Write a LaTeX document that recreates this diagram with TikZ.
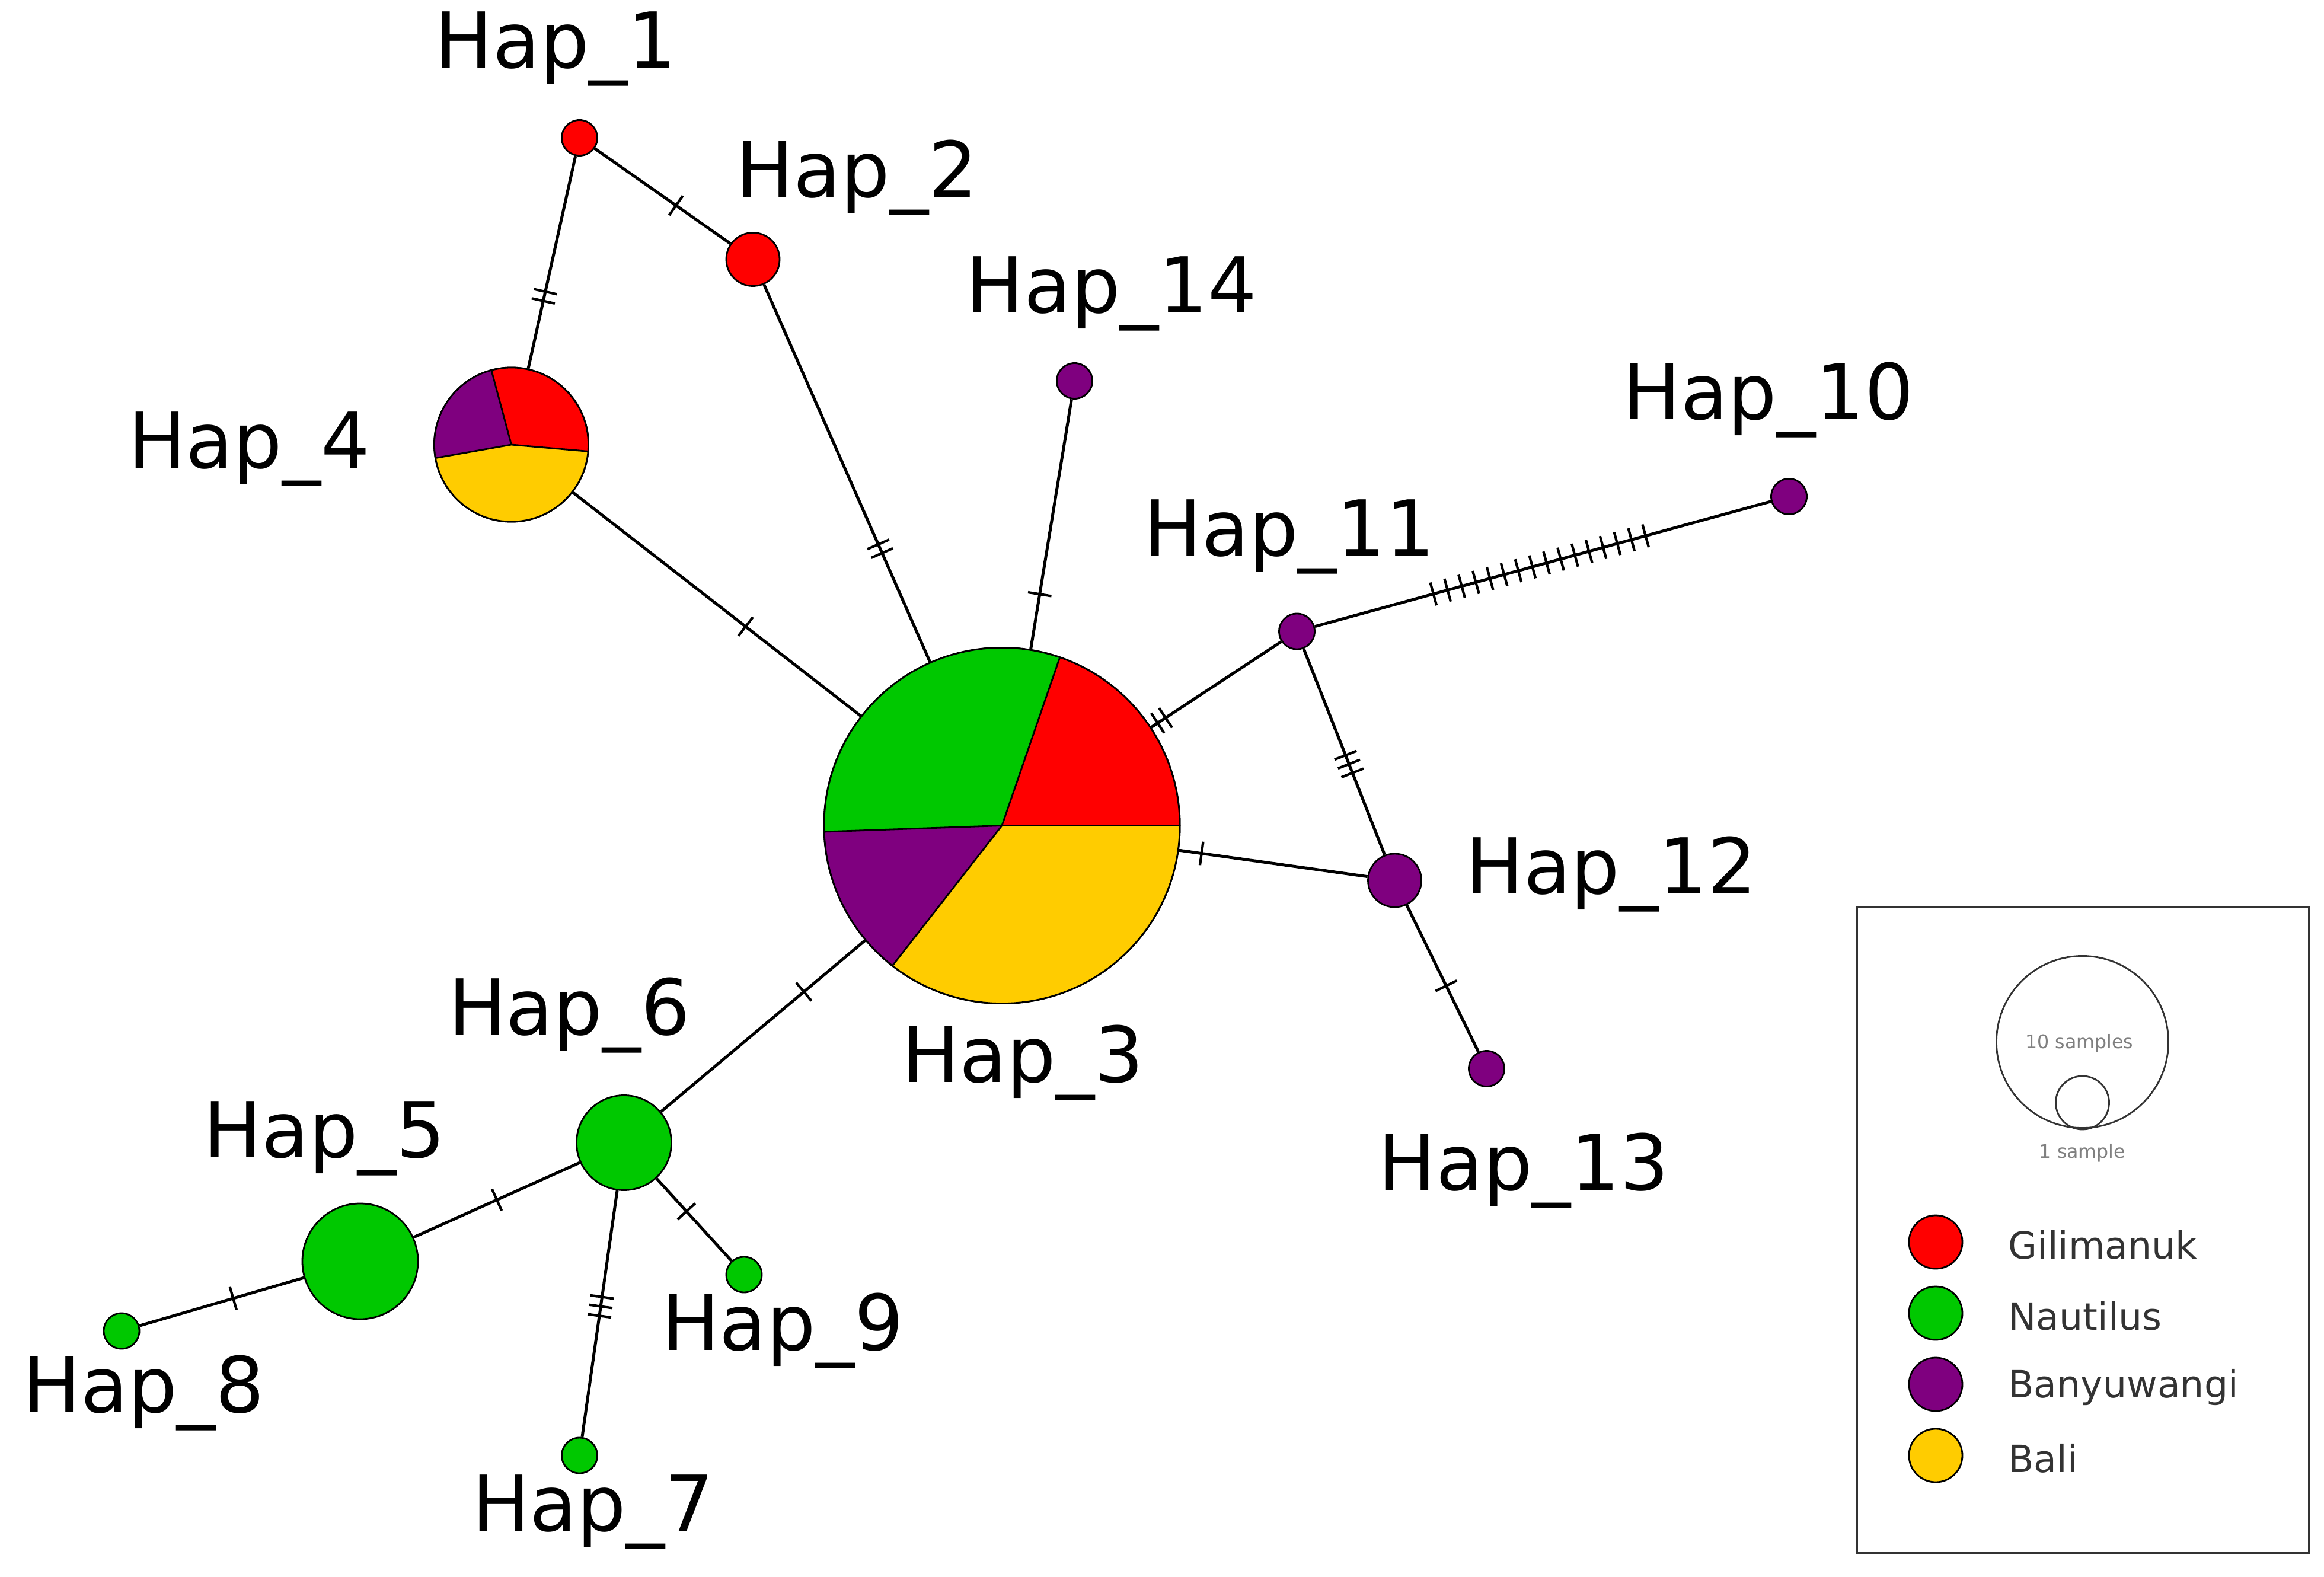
\documentclass[tikz,border=0pt]{standalone}
\usepackage{fontspec}
\setmainfont{DejaVu Sans}
\usetikzlibrary{decorations.markings}
\definecolor{cr}{HTML}{FF0000}
\definecolor{cg}{HTML}{00C800}
\definecolor{cp}{HTML}{7F007F}
\definecolor{cy}{HTML}{FFCC00}
\tikzset{
  x=0.025cm,y=-0.025cm,
  hap/.style={circle,draw=black,line width=0.8pt,inner sep=0pt},
  lbl/.style={font=\fontsize{37}{40}\selectfont},
  leg/.style={font=\fontsize{18}{20}\selectfont,text=black!80,anchor=west},
  edge/.style={line width=1.4pt},
  tk/.style 2 args={postaction={decorate,decoration={markings,mark=at position #1 with {\foreach \i in {1,...,#2}{\draw[line width=1.2pt] ({(\i-(#2+1)/2)*0.16cm},-0.2cm) -- ({(\i-(#2+1)/2)*0.16cm},0.2cm);}}}}}
}
\newcommand{\pieslice}[5]{\fill[#5] (#1) -- ++(#3:#2) arc[start angle=#3,end angle=#4,radius=#2] -- cycle;}
\begin{document}
\begin{tikzpicture}
\useasboundingbox (0,0) rectangle (1568,1064);
% nodes
\node[hap,fill=cr,minimum size=0.6cm] (h1) at (391,93) {};
\node[hap,fill=cr,minimum size=0.9cm] (h2) at (508,175) {};
\node[hap,minimum size=2.6cm] (h4) at (345,300) {};
\node[hap,minimum size=6cm] (h3) at (676,557) {};
\node[hap,fill=cp,minimum size=0.6cm] (h14) at (725,257) {};
\node[hap,fill=cp,minimum size=0.6cm] (h10) at (1207,335) {};
\node[hap,fill=cp,minimum size=0.6cm] (h11) at (875,426) {};
\node[hap,fill=cp,minimum size=0.9cm] (h12) at (941,594) {};
\node[hap,fill=cp,minimum size=0.6cm] (h13) at (1003,721) {};
\node[hap,fill=cg,minimum size=1.6cm] (h6) at (421,771) {};
\node[hap,fill=cg,minimum size=1.95cm] (h5) at (243,851) {};
\node[hap,fill=cg,minimum size=0.6cm] (h8) at (82,898) {};
\node[hap,fill=cg,minimum size=0.6cm] (h9) at (502,860) {};
\node[hap,fill=cg,minimum size=0.6cm] (h7) at (391,982) {};
% pies
\begin{scope}[line width=0.8pt]
\pieslice{h4.center}{1.3cm}{-5}{105}{cr}
\pieslice{h4.center}{1.3cm}{105}{190}{cp}
\pieslice{h4.center}{1.3cm}{190}{355}{cy}
\draw (h4.center) -- ++(-5:1.3cm) (h4.center) -- ++(105:1.3cm) (h4.center) -- ++(190:1.3cm);
\draw (h4.center) circle[radius=1.3cm];
\pieslice{h3.center}{3cm}{0}{71}{cr}
\pieslice{h3.center}{3cm}{71}{182}{cg}
\pieslice{h3.center}{3cm}{182}{232}{cp}
\pieslice{h3.center}{3cm}{232}{360}{cy}
\draw (h3.center) -- ++(0:3cm) (h3.center) -- ++(71:3cm) (h3.center) -- ++(182:3cm) (h3.center) -- ++(232:3cm);
\draw (h3.center) circle[radius=3cm];
\end{scope}
% edges
\draw[edge,tk={0.66}{2}] (h1) -- (h4);
\draw[edge,tk={0.6}{1}] (h1) -- (h2);
\draw[edge,tk={0.7}{2}] (h2) -- (h3);
\draw[edge,tk={0.6}{1}] (h4) -- (h3);
\draw[edge,tk={0.78}{1}] (h14) -- (h3);
\draw[edge,tk={0.08}{2}] (h3) -- (h11);
\draw[edge,postaction={decorate,decoration={markings,mark=between positions 0.26 and 0.73 step 0.031 with {\draw[line width=1.2pt] (0,-0.2cm) -- (0,0.2cm);}}}] (h11) -- (h10);
\draw[edge,tk={0.56}{3}] (h11) -- (h12);
\draw[edge,tk={0.12}{1}] (h3) -- (h12);
\draw[edge,tk={0.55}{1}] (h12) -- (h13);
\draw[edge,tk={0.3}{1}] (h3) -- (h6);
\draw[edge,tk={0.5}{1}] (h6) -- (h5);
\draw[edge,tk={0.43}{1}] (h5) -- (h8);
\draw[edge,tk={0.4}{1}] (h6) -- (h9);
\draw[edge,tk={0.47}{3}] (h6) -- (h7);
% labels
\node[lbl] (l1) at (375,33) {Hap\_1};
\node[lbl] (l2) at (578,120) {Hap\_2};
\node[lbl] (l3) at (690,717) {Hap\_3};
\node[lbl] (l4) at (168,303) {Hap\_4};
\node[lbl] (l5) at (219,768) {Hap\_5};
\node[lbl] (l6) at (384,685) {Hap\_6};
\node[lbl] (l7) at (400,1020) {Hap\_7};
\node[lbl] (l8) at (97,940) {Hap\_8};
\node[lbl] (l9) at (528,898) {Hap\_9};
\node[lbl] (l10) at (1193,270) {Hap\_10};
\node[lbl] (l11) at (870,362) {Hap\_11};
\node[lbl] (l12) at (1087,590) {Hap\_12};
\node[lbl] (l13) at (1028,790) {Hap\_13};
\node[lbl] (l14) at (750,198) {Hap\_14};
% legend
\node[draw=black!80,line width=1pt,minimum width=7.625cm,minimum height=10.9cm,inner sep=0pt] (lg) at (1405.5,830) {};
\node[circle,draw=black!80,line width=0.8pt,minimum size=2.9cm,inner sep=0pt] (c10) at (1405,703) {};
\node[circle,draw=black!80,line width=0.8pt,minimum size=0.9cm,inner sep=0pt] (c1) at (1405,744) {};
\node[font=\fontsize{9}{10}\selectfont,text=black!50] (t10) at (1403,704) {10 samples};
\node[font=\fontsize{9}{10}\selectfont,text=black!50] (t1) at (1405,778) {1 sample};
\node[hap,fill=cr,minimum size=0.9cm] (g1) at (1306,838) {};
\node[hap,fill=cg,minimum size=0.9cm] (g2) at (1306,886) {};
\node[hap,fill=cp,minimum size=0.9cm] (g3) at (1306,934) {};
\node[hap,fill=cy,minimum size=0.9cm] (g4) at (1306,982) {};
\node[leg] (e1) at (1350,840) {Gilimanuk};
\node[leg] (e2) at (1350,888) {Nautilus};
\node[leg] (e3) at (1350,936) {Banyuwangi};
\node[leg] (e4) at (1350,984) {Bali};
\end{tikzpicture}
\end{document}
